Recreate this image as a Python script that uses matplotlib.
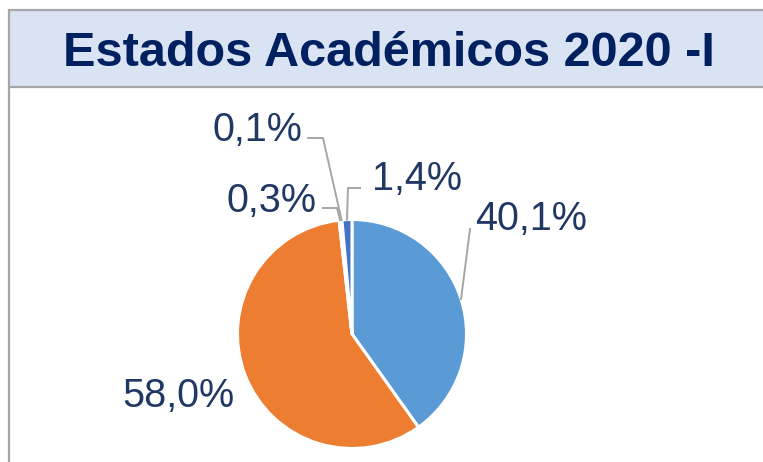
import matplotlib
matplotlib.use("Agg")
import matplotlib.pyplot as plt
import numpy as np
from matplotlib.patches import Rectangle

# data
values = [40.1, 58.0, 0.3, 0.1, 1.4]
colors = ["#5B9BD5", "#ED7D31", "#A5A5A5", "#FFC000", "#4472C4"]
title = "Estados Académicos 2020 -I"

# label placement in pixel coords (left x, baseline y) and leader elbows
label_pos = [(475, 230), (122, 407), (227, 212), (212, 141), (372, 190)]
leader_pts = [
    [(470, 229)],
    None,
    [(323, 208), (337, 208)],
    [(308, 138), (323, 138)],
    [(360, 188), (348, 188)],
]

W, H = 763, 462
CX, CY, R = 352, 334, 114.5

fig = plt.figure(figsize=(W / 100, H / 100), dpi=100)
ax = fig.add_axes([0, 0, 1, 1])


def py(y):
    return H - y


wedges, _ = ax.pie(values, colors=colors, startangle=90, counterclock=False,
                   center=(CX, py(CY)), radius=R,
                   wedgeprops=dict(edgecolor="white", linewidth=2.2))
ax.set_xlim(0, W)
ax.set_ylim(0, H)
ax.axis("off")

# frame and title band
ax.add_patch(Rectangle((9, py(87)), W, 77, facecolor="#DAE3F3",
                       edgecolor="#A6A6A6", linewidth=1.6, zorder=0))
ax.plot([9, 9], [py(87), 0], color="#A6A6A6", linewidth=1.6, zorder=0)
ax.text(63, py(66), title, fontsize=35, fontweight="bold", color="#002060",
        family=["Liberation Sans", "DejaVu Sans"], ha="left", va="baseline")

for w, v, (lx, ly), pts in zip(wedges, values, label_pos, leader_pts):
    txt = f"{v:.1f}".replace(".", ",") + "%"
    ax.text(lx, py(ly), txt, fontsize=28.5, color="#203864",
            family=["Liberation Sans", "DejaVu Sans"], ha="left", va="baseline")
    if pts is None:
        continue
    mid = np.deg2rad((w.theta1 + w.theta2) / 2)
    ax_x = CX + R * np.cos(mid)
    ax_y = py(CY) + R * np.sin(mid)
    xs = [p[0] for p in pts] + [ax_x]
    ys = [py(p[1]) for p in pts] + [ax_y]
    ax.plot(xs, ys, color="#A6A6A6", linewidth=1.4, zorder=3)

fig.savefig("out.png", dpi=100)
